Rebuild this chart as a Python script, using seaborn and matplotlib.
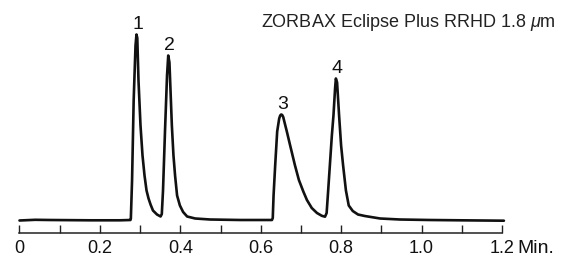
import matplotlib
matplotlib.use("Agg")
import matplotlib.pyplot as plt
import seaborn as sns
import pandas as pd

# Chromatogram trace (time in min, signal in arbitrary units)
time_min = [0.000, 0.039, 0.076, 0.175, 0.250, 0.276,
            0.277, 0.280, 0.284, 0.2886, 0.291, 0.293, 0.296, 0.301, 0.306, 0.311,
            0.316, 0.321, 0.326, 0.332, 0.342, 0.351,
            0.354, 0.357, 0.362, 0.367, 0.370, 0.373, 0.379, 0.383, 0.387, 0.392,
            0.399, 0.407, 0.417, 0.437, 0.474, 0.549, 0.628,
            0.630, 0.632, 0.636, 0.641, 0.646, 0.6485, 0.651, 0.6535, 0.656, 0.660, 0.665, 0.673,
            0.685, 0.695, 0.706, 0.715, 0.727, 0.740, 0.752, 0.760,
            0.764, 0.767, 0.772, 0.777, 0.781, 0.785, 0.787, 0.790, 0.795, 0.800,
            0.805, 0.812, 0.819, 0.829, 0.842, 0.859, 0.897, 0.946, 1.021, 1.096, 1.205]
signal = [0.0, 0.7, 0.5, 0.2, 0.2, 0.5,
          2.0, 40.0, 120.0, 175.0, 186.0, 182.5, 140.0, 95.0, 65.0, 45.0,
          30.0, 22.0, 16.0, 10.0, 6.0, 4.0,
          6.5, 30.0, 90.0, 145.0, 165.0, 158.0, 95.0, 65.0, 45.0, 25.0,
          15.0, 8.5, 4.0, 2.0, 1.0, 0.5, 0.5,
          2.5, 25.0, 55.0, 89.0, 102.0, 105.0, 106.0, 105.5, 103.5, 97.0, 89.0, 75.5,
          55.5, 40.5, 29.0, 20.5, 12.5, 7.5, 4.7, 3.8,
          7.5, 25.0, 55.0, 85.0, 105.0, 132.0, 142.0, 138.0, 105.0, 75.0,
          55.0, 30.0, 15.0, 9.5, 6.0, 4.5, 2.0, 1.0, 0.5, 0.2, -0.2]

peak_labels = ["1", "2", "3", "4"]
peak_times = [0.291, 0.370, 0.651, 0.787]
peak_heights = [186.0, 165.0, 106.0, 142.0]

tick_values = [0.0, 0.2, 0.4, 0.6, 0.8, 1.0, 1.2]
tick_labels = ["0", "0.2", "0.4", "0.6", "0.8", "1.0", "1.2"]
minor_values = [0.1, 0.3, 0.5, 0.7, 0.9, 1.1]
unit_label = "Min."
column_label = "ZORBAX Eclipse Plus RRHD 1.8 $\\mu$m"

sns.set_theme(style="white")
plt.rcParams["font.family"] = ["Liberation Sans", "DejaVu Sans"]
plt.rcParams["mathtext.fontset"] = "custom"
plt.rcParams["mathtext.rm"] = "Liberation Sans"
plt.rcParams["mathtext.it"] = "Liberation Sans:italic"

df = pd.DataFrame({"time": time_min, "signal": signal})

fig = plt.figure(figsize=(5.61, 2.56), dpi=100)
ax = fig.add_axes([0, 23 / 256, 1, 233 / 256])
sns.lineplot(data=df, x="time", y="signal", ax=ax, color="#111111",
             linewidth=1.9, sort=False, estimator=None)

ax.set_xlim(-0.0485, 1.347)
ax.set_ylim(-12.5, 220.5)
for side in ["top", "left", "right"]:
    ax.spines[side].set_visible(False)
ax.spines["bottom"].set_bounds(0, 1.2)
ax.spines["bottom"].set_linewidth(1.1)
ax.spines["bottom"].set_color("#222222")

label_pad = 5.0
ax.set_xticks(tick_values)
ax.set_xticklabels(tick_labels)
ax.set_xticks(minor_values, minor=True)
ax.tick_params(axis="x", which="both", direction="in", length=5.8, width=1.0,
               color="#222222", bottom=True)
ax.tick_params(axis="x", which="major", labelsize=13, pad=label_pad, labelcolor="#111111")
ax.set_yticks([])
ax.set_xlabel("")
ax.set_ylabel("")

ax.annotate(unit_label, (1.2395, -12.5), xytext=(0, -label_pad),
            textcoords="offset points", fontsize=14, ha="left", va="top",
            color="#111111")

for lab, t, h in zip(peak_labels, peak_times, peak_heights):
    ax.annotate(lab, (t, h), xytext=(1, 4.3), textcoords="offset points",
                ha="center", va="baseline", fontsize=14, color="#111111")

fig.text(556 / 561, 1 - 26.7 / 256, column_label, ha="right", va="baseline",
         fontsize=13, color="#222222")

fig.savefig("out.png", dpi=100)
